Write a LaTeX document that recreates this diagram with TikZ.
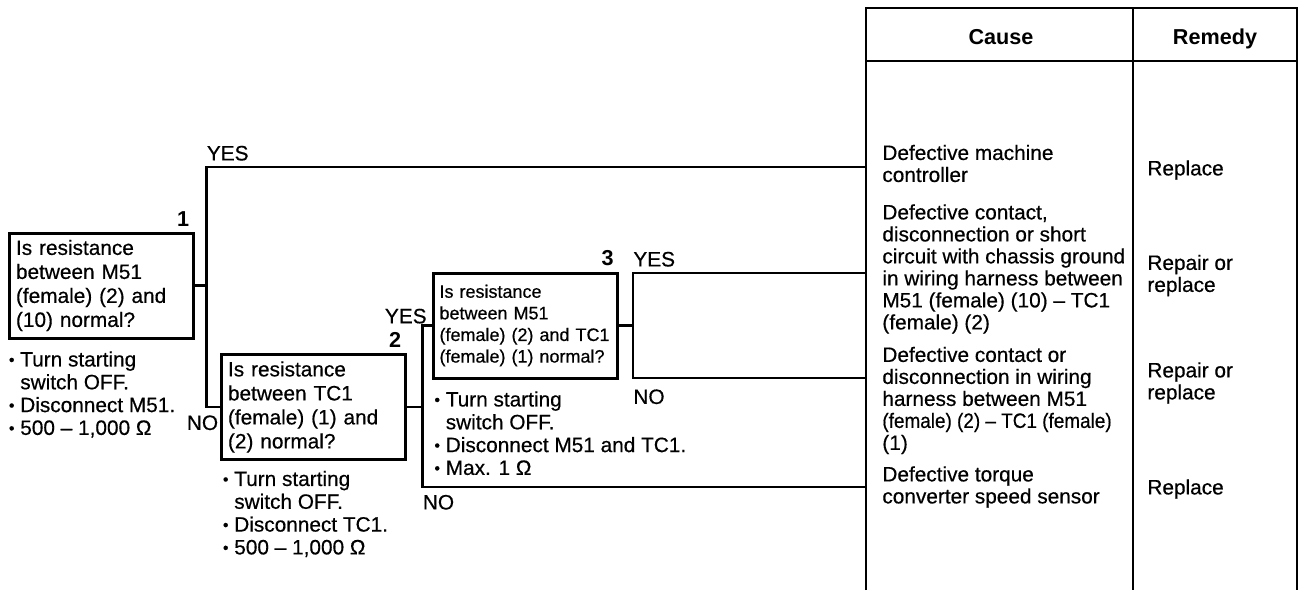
\documentclass[tikz,border=0pt]{standalone}
\usepackage{fontspec}
\setsansfont{Liberation Sans}[UprightFeatures={FakeBold=0.5}]
\usetikzlibrary{positioning}
\newcommand{\bul}{\raisebox{0.6pt}{\fontsize{8}{8}\selectfont\textbullet}\ }
\newcommand{\bulgap}{\phantom{\bul}}

\begin{document}
\begin{tikzpicture}[x=0.5pt, y=-0.5pt, font=\sffamily\fontsize{10.4}{12}\selectfont,
    qbox/.style={draw, line width=1.5pt, minimum height=52.5pt, text width=85pt, inner xsep=3.5pt, inner ysep=2pt, align=left},
    qsmall/.style={qbox, text width=86pt, inner xsep=3pt, font=\sffamily\fontsize{9}{10.8}\selectfont},
    note/.style={align=left, inner sep=0pt, font=\sffamily\fontsize{10.4}{11.4}\selectfont},
    lab/.style={inner sep=0pt},
    num/.style={inner sep=0pt, font=\sffamily\bfseries\fontsize{10.8}{12}\selectfont},
    cause/.style={anchor=west, align=left, inner sep=0pt, font=\sffamily\fontsize{10.4}{11}\selectfont},
    head/.style={anchor=base, inner sep=0pt, font=\sffamily\bfseries\fontsize{10.8}{12}\selectfont},
    conn/.style={line width=1.25pt},
    tab/.style={line width=1pt}]

  \useasboundingbox (0,0) rectangle (1300,590);

  % table
  \draw[tab] (866,590) -- (866,8) -- (1297,8) -- (1297,590);
  \draw[tab] (866,61) -- (1297,61);
  \draw[tab] (1133,8) -- (1133,590);
  \node[head] (hc) at (1001,44.5) {Cause};
  \node[head] (hr) at (1215,44.5) {Remedy};

  \coordinate (e1) at (866,167);
  \coordinate (e2) at (866,273);
  \coordinate (e3) at (866,378);
  \coordinate (e4) at (866,487);

  % checks
  \node[qbox] (q1) at (101,285.5) {Is resistance\\between M51\\(female) (2) and\\(10) normal?};
  \node[qbox] (q2) at (313,407) {Is resistance\\between TC1\\(female) (1) and\\(2) normal?};
  \node[qsmall] (q3) at (525.5,325.5) {Is resistance\\between M51\\(female) (2) and TC1\\(female) (1) normal?};

  \node[num, above left=2.5pt and 2.5pt of q1.north east] (n1) {1};
  \node[num, above left=2.5pt and 2.5pt of q2.north east] (n2) {2};
  \node[num, above left=2.5pt and 2.5pt of q3.north east] (n3) {3};

  \node[note, below right=5.75pt and 0.5pt of q1.south west] (b1)
    {\bul Turn starting\\\bulgap switch OFF.\\\bul Disconnect M51.\\\bul 500 -- 1,000 Ω};
  \node[note, below right=4.75pt and 1.5pt of q2.south west] (b2)
    {\bul Turn starting\\\bulgap switch OFF.\\\bul Disconnect TC1.\\\bul 500 -- 1,000 Ω};
  \node[note, below right=5.75pt and 1pt of q3.south west] (b3)
    {\bul Turn starting\\\bulgap switch OFF.\\\bul Disconnect M51 and TC1.\\\bul Max. 1 Ω};

  \coordinate[right=6pt of q1] (j1);
  \coordinate[right=8pt of q2] (j2);
  \coordinate[right=7pt of q3] (j3);

  \draw[conn] (q1) -- (j1) |- (e1);
  \draw[conn] (j1) |- (q2);
  \draw[conn] (q2) -- (j2) |- (q3);
  \draw[conn] (j2) |- (e4);
  \draw[conn] (q3) -- (j3) |- (e2);
  \draw[conn] (j3) |- (e3);

  \coordinate (k1) at (j1 |- e1);
  \coordinate (k2) at (j1 |- q2.west);
  \coordinate (k3) at (j3 |- e2);
  \coordinate (k4) at (j3 |- e3);
  \coordinate (k5) at (j2 |- e4);
  \node[lab, above right=3pt and 0pt of k1] (y1) {YES};
  \node[lab, below=4pt of k2, xshift=-2pt] (no1) {NO};
  \node[lab, above left=0.8pt and 2.5pt of q3.west] (y2) {YES};
  \node[lab, above right=3pt and 0pt of k3] (y3) {YES};
  \node[lab, below right=5.5pt and 0pt of k4] (no3) {NO};
  \node[lab, below right=3.75pt and 0pt of k5] (no2) {NO};

  % causes and remedies
  \node[cause] (c1) at (882,163.5) {Defective machine\\controller};
  \node[cause] (c2) at (882,269) {Defective contact,\\disconnection or short\\circuit with chassis ground\\in wiring harness between\\M51 (female) (10) -- TC1\\(female) (2)};
  \node[cause] (c3) at (882,400.5) {Defective contact or\\disconnection in wiring\\harness between M51\\\scalebox{0.91}[1]{(female) (2) -- TC1 (female)}\\(1)};
  \node[cause] (c4) at (882,487) {Defective torque\\converter speed sensor};
  \node[cause] (r1) at (1147,170) {Replace};
  \node[cause] (r2) at (1147,275.5) {Repair or\\replace};
  \node[cause] (r3) at (1147,383) {Repair or\\replace};
  \node[cause] (r4) at (1147,489) {Replace};
\end{tikzpicture}
\end{document}
